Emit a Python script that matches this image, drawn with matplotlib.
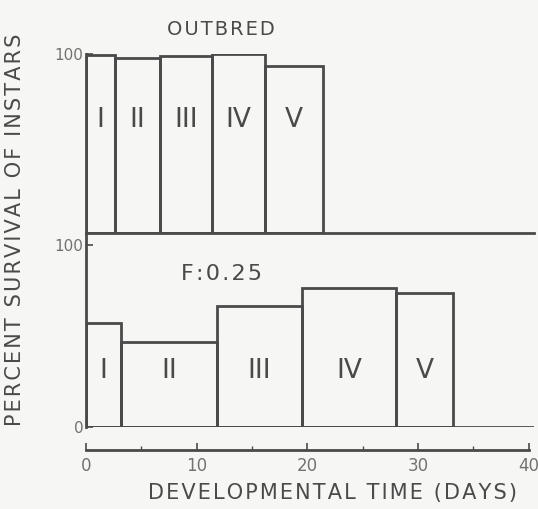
import numpy as np
import matplotlib.pyplot as plt

# instar boundaries (days) and percent survival
outbred_edges = [0, 2.6, 6.7, 11.4, 16.2, 21.4]
outbred_surv = [99.5, 97.5, 99, 100, 93]

inbred_edges = [0, 3.2, 11.8, 19.5, 28.0, 33.2]
inbred_surv = [57, 47, 66.5, 76.5, 73.5]

instars = ['I', 'II', 'III', 'IV', 'V']

bg = '#f6f6f4'
ink = '#4a4a4a'
lbl = '#727272'
lw = 2.0

def spaced(s):
    # widen the lettering a little with hair spaces
    return '\u200a'.join(s)

fig = plt.figure(figsize=(5.38, 5.09), dpi=100)
fig.patch.set_facecolor(bg)

xmax = 40.5
ax1 = fig.add_axes([0.160, 0.542, 0.833, 0.352])
ax2 = fig.add_axes([0.160, 0.161, 0.833, 0.381])

for ax in (ax1, ax2):
    ax.patch.set_alpha(0)
    ax.set_xlim(0, xmax)
    for s in ('top', 'right'):
        ax.spines[s].set_visible(False)
    ax.spines['left'].set_color(ink)
    ax.spines['left'].set_linewidth(lw)
    ax.tick_params(axis='y', direction='in', length=5, width=1.2, color=ink,
                   labelsize=11, labelcolor=lbl, pad=2)

def draw_bars(ax, edges, surv, ytxt):
    edges = np.array(edges)
    ax.bar(edges[:-1], surv, width=np.diff(edges), align='edge',
           facecolor='none', edgecolor=ink, linewidth=lw)
    for i, name in enumerate(instars):
        ax.text((edges[i] + edges[i + 1]) / 2, ytxt, name, ha='center', va='center',
                fontsize=19, color=ink)

# top panel: outbred
draw_bars(ax1, outbred_edges, outbred_surv, 63)
ax1.set_ylim(0, 100)
ax1.set_yticks([100])
ax1.set_xticks([])
ax1.spines['bottom'].set_color(ink)
ax1.spines['bottom'].set_linewidth(lw)
ax1.set_title(spaced('OUTBRED'), fontsize=14, color=ink, pad=14, x=0.30)

# bottom panel: F = 0.25
draw_bars(ax2, inbred_edges, inbred_surv, 31)
ax2.axhline(0, color=ink, linewidth=lw)
ax2.set_ylim(0, 106.6)
ax2.set_yticks([0, 100])
ax2.text(12.2, 84, spaced('F:0.25'), ha='center', va='center', fontsize=16, color=ink)

ax2.spines['bottom'].set_position(('outward', 16.5))
ax2.spines['bottom'].set_bounds(0, 40)
ax2.spines['bottom'].set_color(ink)
ax2.spines['bottom'].set_linewidth(lw)
ax2.set_xticks([0, 10, 20, 30, 40])
ax2.set_xticks([5, 15, 25, 35], minor=True)
ax2.tick_params(axis='x', which='major', direction='in', length=5, width=1.2,
                color=ink, labelsize=12, labelcolor=lbl, pad=5)
ax2.tick_params(axis='x', which='minor', direction='in', length=3, width=1.0, color=ink)

ax2.set_xlabel(spaced('DEVELOPMENTAL TIME (DAYS)'), fontsize=15, color=ink,
               labelpad=6, x=0.55)
fig.text(0.028, 0.548, spaced('PERCENT SURVIVAL OF INSTARS'), rotation=90,
         ha='center', va='center', fontsize=15, color=ink)

fig.savefig('out.png', dpi=100, facecolor=bg)
